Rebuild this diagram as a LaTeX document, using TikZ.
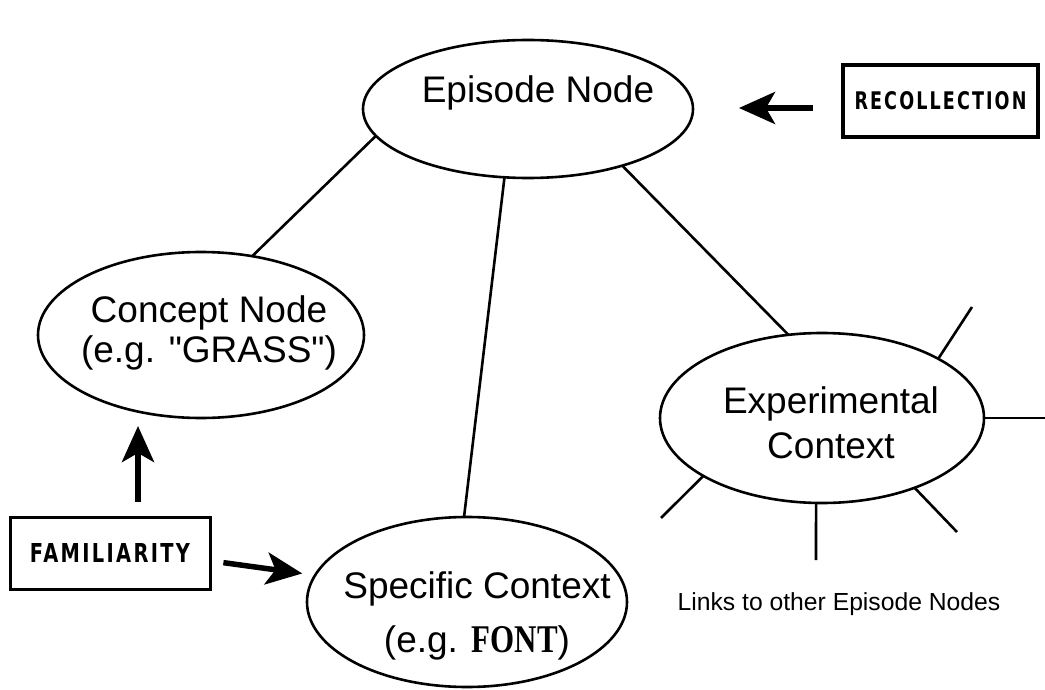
\documentclass[tikz,border=0pt]{standalone}
\usepackage{fontspec}
\usepackage{graphicx}
\setmainfont{Liberation Sans}
\newfontfamily\serifbold{Liberation Serif}
\newfontfamily\boxfont{DejaVu Sans}[LetterSpace=12]
\usetikzlibrary{shapes.geometric,arrows.meta}
\tikzset{
  ell/.style={draw, ellipse, line width=2.6pt, inner sep=0pt, outer sep=0pt},
  lbl/.style={inner sep=0pt, align=center, font=\fontsize{37}{#1}\selectfont},
  lbl/.default=42,
  lnk/.style={line width=2.6pt},
  labelbox/.style={draw, line width=3pt, inner sep=0pt, minimum height=72pt},
  bigarrow/.style={line width=5.5pt, -{Stealth[length=36pt,width=32pt,inset=9pt]}},
}
\begin{document}
\begin{tikzpicture}[x=1pt,y=-1pt]
\path[use as bounding box] (0,0) rectangle (1045,690);
% ellipses
\node[ell, minimum width=330pt, minimum height=138pt] (ep) at (528,109) {};
\node[ell, minimum width=326pt, minimum height=166pt] (con) at (201,335) {};
\node[ell, minimum width=320pt, minimum height=170pt] (sp) at (467,602) {};
\node[ell, minimum width=324pt, minimum height=170pt] (ex) at (822,418) {};
% labels (base anchor = baseline of last line)
\node[lbl, anchor=base] (epl) at (538,103) {Episode Node};
\node[lbl=40, anchor=base] (conl) at (209,362) {Concept Node\\(e.g. \textquotedbl GRASS\textquotedbl)};
\node[lbl=54, anchor=base] (spl) at (477,652) {Specific Context\\(e.g. \resizebox{86pt}{26pt}{\serifbold\bfseries FONT})};
\node[lbl=45, anchor=base] (exl) at (831,458) {Experimental\\Context};
\node[inner sep=0pt, anchor=base, font=\fontsize{24.7}{28}\selectfont] (links) at (839,610) {Links to other Episode Nodes};
% boxes
\node[labelbox, line width=3.5pt, minimum width=195pt] (rec) at (940.5,101) {\resizebox{172pt}{18pt}{\boxfont\bfseries RECOLLECTION}};
\node[labelbox, minimum width=200pt] (fam) at (110,553) {\resizebox{160pt}{19pt}{\boxfont\bfseries FAMILIARITY}};
% links between nodes
\draw[lnk] (ep.190) -- (con.57);
\draw[lnk] (ep.251.6) -- (sp.92.7);
\draw[lnk] (ep.-31) -- (ex.112);
% spokes to other episode nodes
\coordinate (s1) at (972,307);
\coordinate (s2) at (1045,418);
\coordinate (s3) at (957,532);
\coordinate (s4) at (816,560);
\coordinate (s5) at (661,518);
\draw[lnk] (ex.27.4) -- (s1);
\draw[lnk] (ex.0) -- (s2);
\draw[lnk] (ex.-37.7) -- (s3);
\draw[lnk] (ex.-94) -- (s4);
\draw[lnk] (ex.206.6) -- (s5);
% arrows
\draw[bigarrow, shorten <=28pt, shorten >=46pt] ([yshift=-7pt]rec.west) -- ([yshift=-7pt]rec.west -| ep.east);
\draw[bigarrow, shorten <=14pt, shorten >=8pt] ([xshift=28pt]fam.north) -- ([xshift=28pt]fam.north |- con.south);
\draw[bigarrow, shorten <=12pt, shorten >=13pt] ([yshift=-8pt]fam.east) -- (sp.170);
\end{tikzpicture}
\end{document}
